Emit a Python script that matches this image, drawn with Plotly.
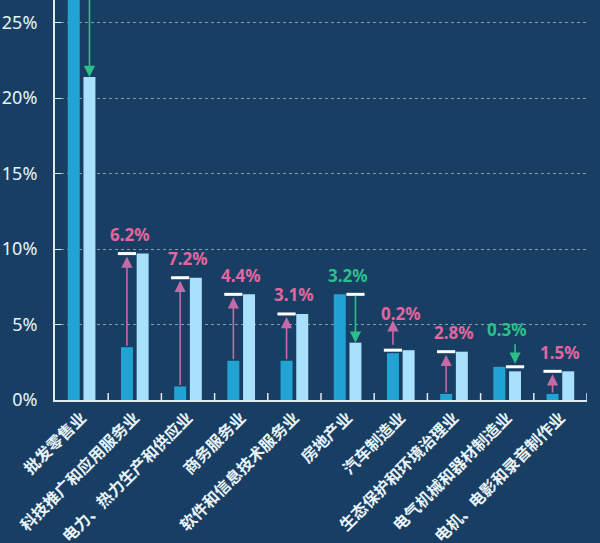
import plotly.graph_objects as go

# Data (percent)
industries = ["批发零售业", "科技推广和应用服务业", "电力、热力生产和供应业", "商务服务业",
              "软件和信息技术服务业", "房地产业", "汽车制造业", "生态保护和环境治理业",
              "电气机械和器材制造业", "电机、电影和录音制作业"]
share_before = [29.0, 3.5, 0.9, 2.6, 2.6, 7.0, 3.1, 0.4, 2.2, 0.4]
share_after = [21.4, 9.7, 8.1, 7.0, 5.7, 3.8, 3.3, 3.2, 1.9, 1.9]
change_labels = ["", "6.2%", "7.2%", "4.4%", "3.1%", "3.2%", "0.2%", "2.8%", "0.3%", "1.5%"]
y_ticks = [0, 5, 10, 15, 20, 25]

BG = "#183f63"
DARK = "#21a3d4"
LIGHT = "#a9e0fb"
PINK = "#e4659f"
PINK_LINE = "#c46aa6"
GREEN = "#2dbf8a"
TXT = "#e8f3f9"
AXIS = "#dfeaf2"

xs = list(range(len(industries)))
w = 0.225
off_d = -0.26
off_l = 0.035
cd = off_d + w / 2
cl = off_l + w / 2

fig = go.Figure()
fig.add_bar(x=xs, y=share_before, width=w, offset=off_d, marker_color=DARK,
            marker_line_width=0, showlegend=False)
fig.add_bar(x=xs, y=share_after, width=w, offset=off_l, marker_color=LIGHT,
            marker_line_width=0, showlegend=False)

arrow = dict(text="", showarrow=True, arrowhead=2, arrowsize=1.4, arrowwidth=1.6)
mx, my = [], []
for i, (a, b, lab) in enumerate(zip(share_before, share_after, change_labels)):
    up = b > a
    col = PINK if up else GREEN
    lcol = PINK_LINE if up else GREEN
    short = abs(b - a) < 1
    if up:
        xm, ym = i + cd, b
    else:
        xm, ym = i + cl, a
    mx.append(xm)
    my.append(ym)
    if short and up:
        # arrow starts at the marker and points up
        fig.add_annotation(x=xm, y=ym, ax=0, ay=26, yshift=30, arrowcolor=lcol, **arrow)
    elif short:
        fig.add_annotation(x=xm, y=ym, ax=0, ay=-24, standoff=3, arrowcolor=lcol, **arrow)
    elif up:
        fig.add_annotation(x=xm, y=b, ax=xm, ay=a, axref="x", ayref="y",
                           standoff=3, arrowcolor=lcol, **arrow)
    else:
        fig.add_annotation(x=i + cl, y=b, ax=i + cl, ay=a, axref="x", ayref="y",
                           standoff=0, arrowcolor=lcol, **arrow)
    if lab:
        fig.add_annotation(x=i, y=max(a, b), text="<b>%s</b>" % lab, showarrow=False,
                           yshift=37 if short else 19, xshift=-5 if i == 1 else 0,
                           font=dict(size=17, color=col, family="Noto Sans"))

fig.add_scatter(x=mx, y=my, mode="markers", hoverinfo="skip", showlegend=False,
                marker=dict(symbol="line-ew-open", size=13, color="white",
                            line=dict(color="white", width=3)))

# boundary ticks on the category axis
fig.add_scatter(x=[i + 0.5 for i in xs], y=[0] * len(xs), mode="markers",
                hoverinfo="skip", showlegend=False,
                marker=dict(symbol="line-ns-open", size=10, color=AXIS,
                            line=dict(color=AXIS, width=1.5)))

fig.update_layout(
    width=600, height=543,
    paper_bgcolor=BG, plot_bgcolor=BG,
    margin=dict(l=55, r=13, t=0, b=143),
    barmode="overlay",
    font=dict(family="Noto Sans CJK SC", color=TXT),
)
fig.update_xaxes(
    tickvals=xs, ticktext=["<b>%s</b>" % s for s in industries], tickangle=-45,
    range=[-0.5, 9.5], automargin=False,
    showgrid=False, showline=True, linecolor=AXIS, linewidth=2,
    ticks="", tickfont=dict(size=16, color=TXT, family="Noto Sans CJK SC"),
)
fig.update_yaxes(
    range=[0, 26.5], tickvals=y_ticks, ticktext=["%d%%" % v for v in y_ticks],
    automargin=False,
    showgrid=True, gridcolor="rgba(220,235,245,0.55)", griddash="dot", gridwidth=1,
    showline=True, linecolor=AXIS, linewidth=2, zeroline=False,
    ticks="inside", ticklen=6, tickcolor=AXIS, ticklabelstandoff=12,
    tickfont=dict(size=18, color=TXT, family="Noto Sans"),
)

fig.write_html("out.html", config={"displayModeBar": False},
               post_script="document.body.style.margin='0';"
               "document.body.style.background='%s';" % BG)
